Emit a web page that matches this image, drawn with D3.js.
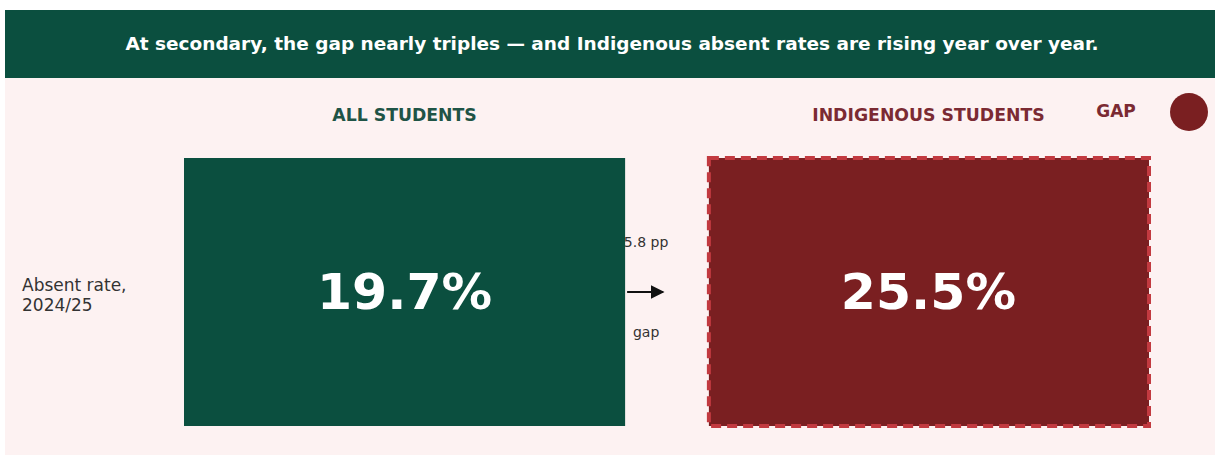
<!DOCTYPE html>
<html><head><meta charset="utf-8">
<script src="https://cdn.jsdelivr.net/npm/d3@7/dist/d3.min.js"></script>
<style>html,body{margin:0;padding:0;background:#fff;}svg{display:block;font-family:"DejaVu Sans",sans-serif;}</style>
</head><body>
<svg id="chart" width="1215" height="460"></svg>
<script>
const title = "At secondary, the gap nearly triples \u2014 and Indigenous absent rates are rising year over year.";
const categories = ["ALL STUDENTS", "INDIGENOUS STUDENTS"];
const rowLabels = [["Absent rate,", "2024/25"]];
const values = [19.7, 25.5];
const gapValue = 5.8;
const legendLabel = "GAP";

const green = "#0b4f3f", maroon = "#7a1f21", dashRed = "#c23a40", pink = "#fdf2f2";
const svg = d3.select("#chart");

svg.append("rect").attr("x", 5).attr("y", 78).attr("width", 1210).attr("height", 377).attr("fill", pink);
svg.append("rect").attr("x", 5).attr("y", 10).attr("width", 1210).attr("height", 68).attr("fill", green);
svg.append("text").attr("x", 612).attr("y", 50).attr("text-anchor", "middle")
  .attr("fill", "#fff").attr("font-weight", "bold").attr("font-size", 17)
  .attr("textLength", 973).attr("lengthAdjust", "spacingAndGlyphs").text(title);

const x = d3.scaleBand().domain(categories).range([184, 1149]).paddingInner(0.158);
const y = d3.scaleBand().domain(rowLabels.map(d => d.join(" "))).range([158, 426]);
const row = rowLabels[0].join(" ");

// column headers
svg.selectAll(".colhead").data(categories).join("text")
  .attr("x", d => x(d) + x.bandwidth() / 2).attr("y", 121)
  .attr("text-anchor", "middle").attr("font-weight", "bold").attr("font-size", 17.3)
  .attr("fill", (d, i) => i === 0 ? "#1f5446" : "#7b2a33").text(d => d);

// legend
svg.append("text").attr("x", 1116).attr("y", 117).attr("text-anchor", "middle")
  .attr("font-weight", "bold").attr("font-size", 17).attr("fill", "#7b2a33").text(legendLabel);
svg.append("circle").attr("cx", 1189).attr("cy", 112).attr("r", 19).attr("fill", maroon);

// row label
svg.selectAll(".rowlab").data(rowLabels[0]).join("text")
  .attr("x", 22).attr("y", (d, i) => 291 + i * 20)
  .attr("font-size", 17).attr("fill", "#333").text(d => d);

// gap annotation
const gx = x(categories[0]) + x.bandwidth() + 21;
const cy = y(row) + y.bandwidth() / 2;
svg.append("text").attr("x", gx).attr("y", 247).attr("text-anchor", "middle")
  .attr("font-size", 14).attr("fill", "#333").text(gapValue.toFixed(1) + " pp");
svg.append("text").attr("x", gx).attr("y", 337).attr("text-anchor", "middle")
  .attr("font-size", 14).attr("fill", "#333").text("gap");
svg.append("defs").append("marker").attr("id", "ah").attr("viewBox", "0 0 10 10")
  .attr("refX", 9).attr("refY", 5).attr("markerWidth", 7).attr("markerHeight", 7)
  .attr("orient", "auto").append("path").attr("d", "M0,0L10,5L0,10z").attr("fill", "#111");
svg.append("line").attr("x1", gx - 19).attr("x2", gx + 17).attr("y1", cy).attr("y2", cy)
  .attr("stroke", "#111").attr("stroke-width", 2).attr("marker-end", "url(#ah)");

// cells
svg.selectAll(".cell").data(values).join("rect")
  .attr("x", (d, i) => x(categories[i]) + (i === 1 ? 1 : 0))
  .attr("y", y(row) + 0)
  .attr("width", (d, i) => x.bandwidth() - (i === 1 ? 1 : 0))
  .attr("height", (d, i) => y.bandwidth() - (i === 1 ? 0 : 0))
  .attr("fill", (d, i) => i === 0 ? green : maroon)
  .attr("stroke", (d, i) => i === 1 ? dashRed : "none")
  .attr("stroke-width", 4).attr("stroke-dasharray", "10,6");

svg.selectAll(".val").data(values).join("text")
  .attr("x", (d, i) => x(categories[i]) + x.bandwidth() / 2)
  .attr("y", cy + 17).attr("text-anchor", "middle")
  .attr("font-weight", "bold").attr("font-size", 50.5).attr("fill", "#fff")
  .text(d => d.toFixed(1) + "%");
</script>
</body></html>
